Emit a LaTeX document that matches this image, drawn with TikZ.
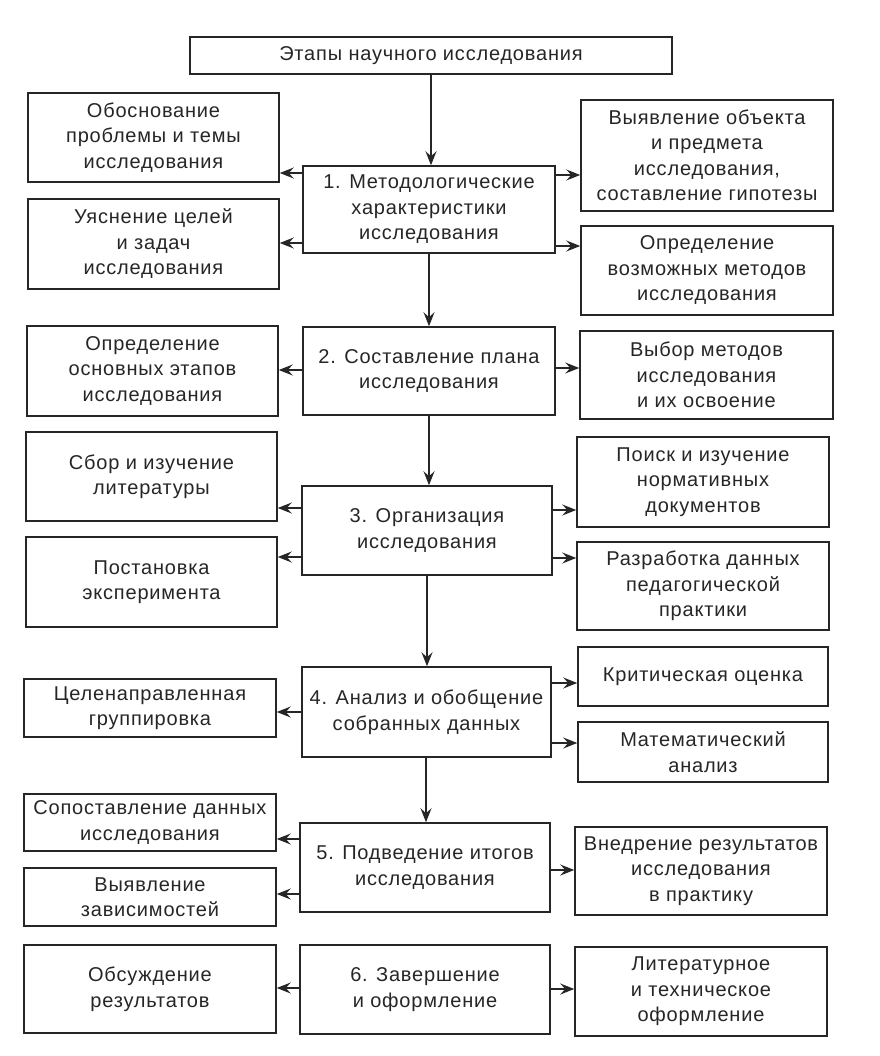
\documentclass[tikz,border=0pt]{standalone}
\usepackage{fontspec}
\setmainfont[LetterSpace=4]{Liberation Sans}
\usetikzlibrary{arrows.meta}
\definecolor{ink}{HTML}{262626}
\tikzset{
  box/.style={draw=ink, line width=1.5pt, text=ink, align=center, inner sep=0pt,
    font=\fontsize{20}{25.5}\selectfont},
  arr/.style={draw=ink, line width=1.5pt, -{Stealth[length=14pt,width=11pt,inset=5pt]}}
}
\newcommand\larr[3]{\coordinate (tmp) at ([yshift=#2]#1.west); \draw[arr] (tmp) -- (tmp -| #3.east);}
\newcommand\rarr[3]{\coordinate (tmp) at ([yshift=#2]#1.east); \draw[arr] (tmp) -- (tmp -| #3.west);}
\begin{document}
\begin{tikzpicture}[x=1pt,y=-1pt]
\useasboundingbox[fill=white] (0,0) rectangle (879,1056);
% title
\node[box, minimum width=482pt, minimum height=37pt] (T) at (431,55.5) {Этапы научного исследования};
% stage 1
\node[box, minimum width=252pt, minimum height=87pt] (C1) at (429,209.5) {1. Методологические\\характеристики\\исследования};
\node[box, minimum width=251pt, minimum height=89pt] (L1) at (153.5,137.5) {Обоснование\\проблемы и темы\\исследования};
\node[box, minimum width=251pt, minimum height=90pt] (L2) at (153.5,244) {Уяснение целей\\и задач\\исследования};
\node[box, minimum width=252pt, minimum height=111pt] (R1) at (707,155.5) {Выявление объекта\\и предмета\\исследования,\\составление гипотезы};
\node[box, minimum width=252pt, minimum height=89pt] (R2) at (707,270.5) {Определение\\возможных методов\\исследования};
% stage 2
\node[box, minimum width=252pt, minimum height=88pt] (C2) at (429,371) {2. Составление плана\\исследования};
\node[box, minimum width=251pt, minimum height=90pt] (L3) at (152.5,371) {Определение\\основных этапов\\исследования};
\node[box, minimum width=253pt, minimum height=88pt] (R3) at (706.5,375) {Выбор методов\\исследования\\и их освоение};
% stage 3
\node[box, minimum width=250pt, minimum height=89pt] (C3) at (427,530.5) {3. Организация\\исследования};
\node[box, minimum width=251pt, minimum height=89pt] (L4) at (151.5,476.5) {Сбор и изучение\\литературы};
\node[box, minimum width=251pt, minimum height=90pt] (L5) at (151.5,582) {Постановка\\эксперимента};
\node[box, minimum width=252pt, minimum height=90pt] (R4) at (703,482) {Поиск и изучение\\нормативных\\документов};
\node[box, minimum width=252pt, minimum height=88pt] (R5) at (703,586) {Разработка данных\\педагогической\\практики};
% stage 4
\node[box, minimum width=249pt, minimum height=90pt] (C4) at (426.5,712) {4. Анализ и обобщение\\собранных данных};
\node[box, minimum width=252pt, minimum height=58pt] (L6) at (150,708) {Целенаправленная\\группировка};
\node[box, minimum width=250pt, minimum height=59pt] (R6) at (703,676.5) {Критическая оценка};
\node[box, minimum width=250pt, minimum height=60pt] (R7) at (703,752) {Математический\\анализ};
% stage 5
\node[box, minimum width=250pt, minimum height=89pt] (C5) at (425,867.5) {5. Подведение итогов\\исследования};
\node[box, minimum width=252pt, minimum height=57pt] (L7) at (150,822.5) {Сопоставление данных\\исследования};
\node[box, minimum width=252pt, minimum height=58pt] (L8) at (150,897) {Выявление\\зависимостей};
\node[box, minimum width=252pt, minimum height=88pt] (R8) at (701,871) {Внедрение результатов\\исследования\\в практику};
% stage 6
\node[box, minimum width=250pt, minimum height=89pt] (C6) at (425,989.5) {6. Завершение\\и оформление};
\node[box, minimum width=252pt, minimum height=88pt] (L9) at (150,989) {Обсуждение\\результатов};
\node[box, minimum width=252pt, minimum height=89pt] (R9) at (701,991.5) {Литературное\\и техническое\\оформление};
% vertical arrows
\draw[arr] (T.south) -- (T.south |- C1.north);
\draw[arr] (C1.south) -- (C1.south |- C2.north);
\draw[arr] (C2.south) -- (C2.south |- C3.north);
\draw[arr] (C3.south) -- (C3.south |- C4.north);
\coordinate (c4s) at ([xshift=-0.5pt]C4.south);
\draw[arr] (c4s) -- (c4s |- C5.north);
% horizontal arrows
\larr{C1}{36.5pt}{L1} \larr{C1}{-33.5pt}{L2}
\rarr{C1}{34.5pt}{R1} \rarr{C1}{-36.5pt}{R2}
\larr{C2}{1pt}{L3} \rarr{C2}{3pt}{R3}
\larr{C3}{22.5pt}{L4} \larr{C3}{-26.5pt}{L5}
\rarr{C3}{20.5pt}{R4} \rarr{C3}{-27.5pt}{R5}
\larr{C4}{0pt}{L6}
\rarr{C4}{29pt}{R6} \rarr{C4}{-31pt}{R7}
\larr{C5}{28.5pt}{L7} \larr{C5}{-26.5pt}{L8}
\rarr{C5}{-2.5pt}{R8}
\larr{C6}{1.5pt}{L9} \rarr{C6}{0.5pt}{R9}
\end{tikzpicture}
\end{document}
